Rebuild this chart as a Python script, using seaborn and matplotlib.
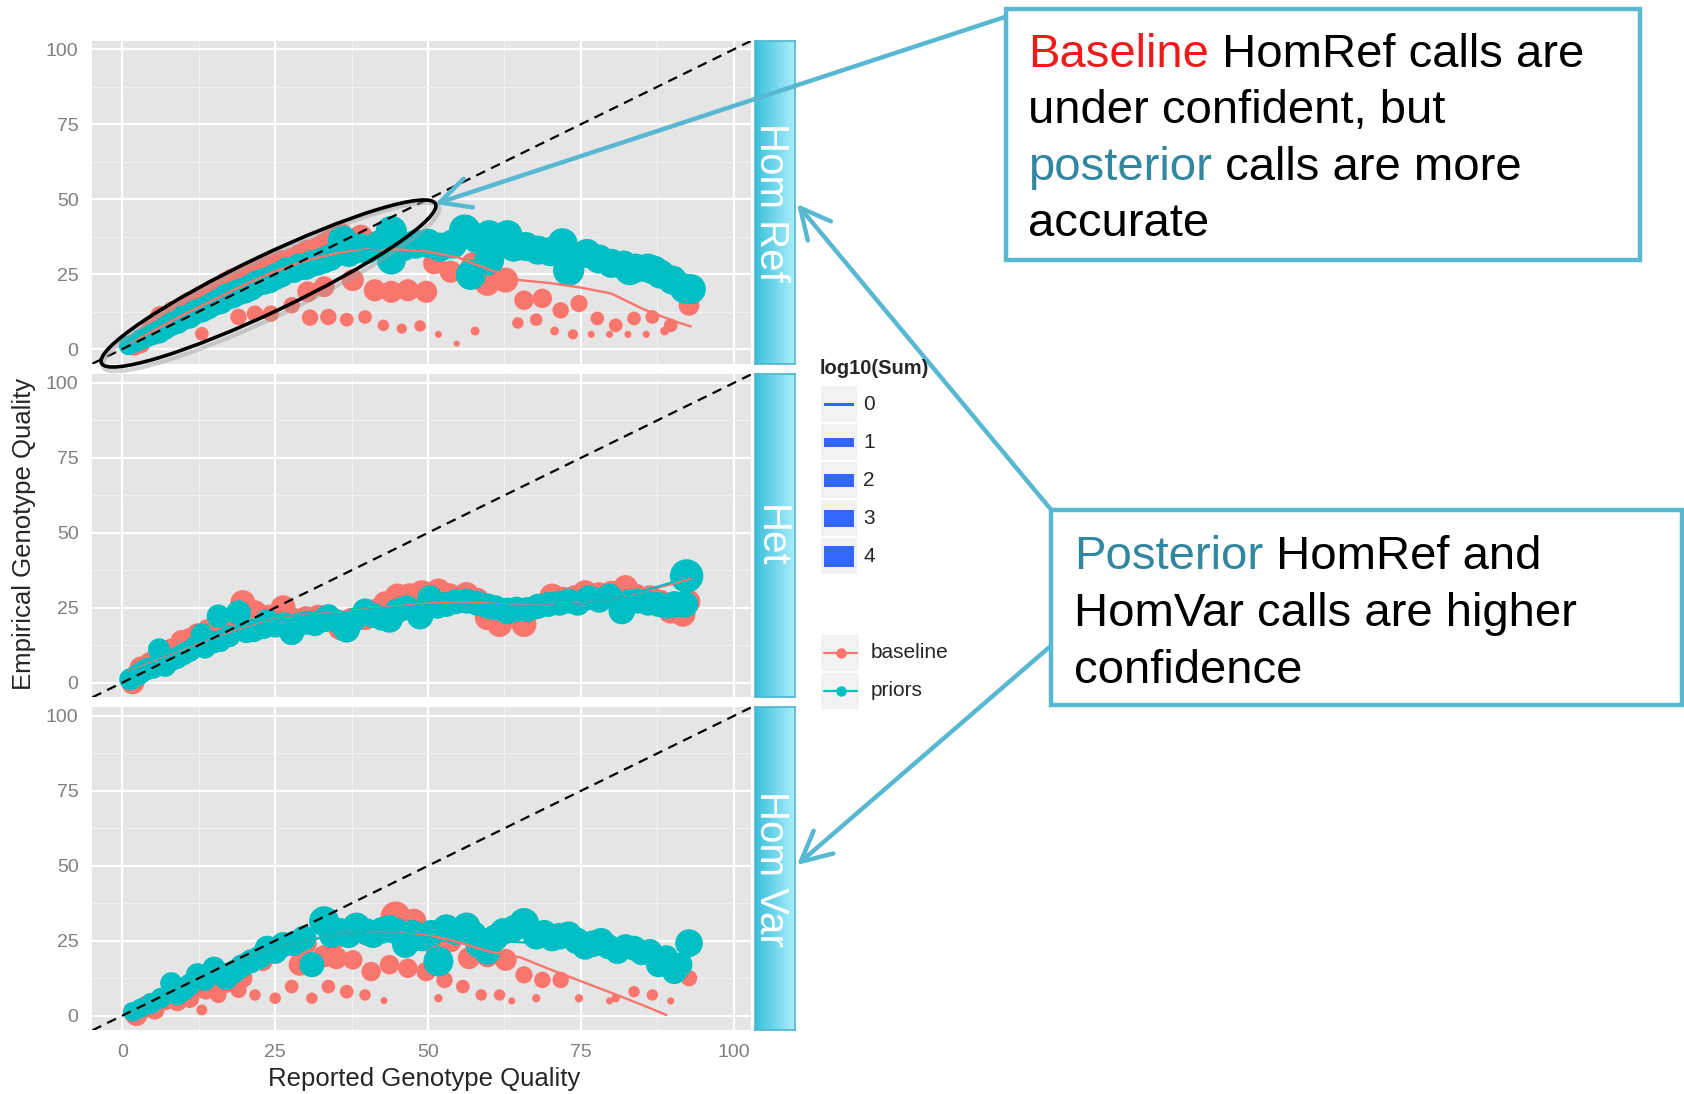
import numpy as np
import pandas as pd
import matplotlib
matplotlib.use("Agg")
import matplotlib.pyplot as plt
import seaborn as sns
from matplotlib.patches import Rectangle, Ellipse
from matplotlib.colors import LinearSegmentedColormap

# ------------------------------------------------------------------ data
panel_labels = ["Hom Ref", "Het", "Hom Var"]
group_labels = ["baseline", "priors"]
size_labels = ["0", "1", "2", "3", "4"]
tick_values = [0, 25, 50, 75, 100]
tick_labels = ["0", "25", "50", "75", "100"]

# --- Hom Ref
homref_base_x = [2, 3, 4, 5, 6.3, 7, 8.3, 9, 10, 11, 12, 13, 14, 15, 16, 17, 18, 19.7, 21, 22.3, 24, 25, 26, 27.7, 29, 30.3, 32, 33, 34, 35.7, 39,
                 13, 19, 21.7, 24.3, 27.7, 30.3, 33, 37.7, 41.3, 44, 46.7, 49.7, 51, 53.7, 57.3, 59.7, 62.7, 65.7, 68.7, 71.7, 74.7, 77.7, 80.7, 83.7, 86.7, 89.7, 92.7,
                 30.7, 33.7, 36.7, 39.7, 42.7, 45.7, 48.7, 51.7, 54.7, 57.7, 64.7, 67.7, 70.7, 73.7, 76.7, 79.7, 82.7, 85.7, 88.7]
homref_base_y = [1.0, 1.8, 4.5, 7.4, 10.7, 9.0, 12.4, 11.0, 13.0, 15.2, 14.5, 17.4, 18.0, 19.6, 20.5, 21.9, 23.0, 24.1, 25.0, 26.3, 27.5, 28.0, 29.0, 29.7, 31.0, 32.5, 33.5, 34.7, 36.0, 38.0, 37.5,
                 5.1, 10.7, 11.8, 11.8, 14.6, 19.1, 20.8, 23.0, 19.6, 19.1, 19.6, 19.1, 28.6, 25.8, 28.6, 21.9, 23.0, 16.3, 16.9, 12.9, 15.2, 10.2, 7.9, 10.2, 10.7, 7.9, 14.6,
                 10.5, 10.7, 9.8, 10.7, 7.9, 6.8, 7.7, 4.9, 1.8, 6.0, 8.7, 9.8, 6.0, 4.9, 4.9, 4.9, 4.9, 4.9, 6.0]
homref_base_s = [1.3, 1.3, 1.5, 1.7, 1.7, 1.7, 1.7, 1.7, 1.7, 1.9, 1.9, 1.9, 1.9, 1.9, 1.9, 1.9, 1.9, 2.0, 2.0, 2.0, 2.0, 2.0, 2.0, 2.0, 2.0, 2.0, 2.0, 2.0, 2.0, 2.2, 2.0,
                 0.6, 0.9, 0.9, 0.9, 0.9, 1.5, 1.5, 1.7, 1.7, 1.7, 1.7, 1.7, 1.7, 1.7, 1.7, 2.2, 2.2, 1.3, 1.3, 0.9, 1.0, 0.6, 0.6, 0.6, 0.6, 0.6, 1.5,
                 0.9, 0.9, 0.6, 0.6, 0.4, 0.3, 0.4, 0.1, 0.05, 0.2, 0.4, 0.5, 0.2, 0.3, 0.1, 0.1, 0.1, 0.1, 0.2]
homref_prior_x = [1, 2, 3, 4, 5, 6, 7, 8, 9, 10, 11, 12, 13, 14, 15, 16, 17, 18, 19, 20, 21, 22, 23, 24, 25, 26, 27, 28, 29, 30,
                  31, 32, 33, 34, 35, 36, 37, 38, 39, 40, 42, 44, 44, 46, 48, 50, 52, 54, 56, 57, 58, 60, 60, 62, 63, 64, 66, 68,
                  70, 72, 73, 74, 76, 78, 80, 82, 83, 84, 86, 87, 88, 90, 92, 93]
homref_prior_y = [1.2, 2.0, 3.2, 4.0, 5.0, 5.7, 7.0, 8.3, 9.0, 10.5, 11.0, 12.4, 13.0, 14.0, 15.2, 16.0, 17.4, 18.0, 19.0, 19.6,
                  20.5, 21.9, 22.5, 23.0, 24.1, 25.0, 26.3, 26.5, 27.5, 27.5, 28.5, 29.0, 29.7, 30.5, 31.9, 36.4, 32.0, 33.0, 34.0, 33.0,
                  35.0, 39.2, 29.7, 34.2, 35.0, 35.3, 34.0, 35.0, 39.7, 24.7, 37.0, 38.0, 29.7, 36.0, 38.0, 34.0, 34.2, 33.0, 32.5, 35.3,
                  26.3, 31.0, 31.9, 30.0, 28.6, 28.0, 26.3, 27.0, 27.0, 26.3, 25.0, 23.0, 20.2, 20.0]
homref_prior_s = [1.3, 1.3, 1.5, 1.5, 1.7, 1.9, 1.9, 2.0, 2.0, 2.2, 2.2, 2.2, 2.2, 2.2, 2.2,
                  2.5, 2.5, 2.5, 2.5, 2.5, 2.5, 2.5, 2.5, 2.5, 2.5, 2.5, 2.5, 2.5, 2.5, 2.5, 2.5, 2.5, 2.5, 2.5, 2.5,
                  3.0, 2.7, 2.7, 2.7, 2.7,
                  2.7, 3.5, 3.0, 3.0, 3.0, 3.0, 3.0, 3.0, 3.5, 3.2, 3.2, 3.2, 3.2, 3.2, 3.2, 3.0, 3.0, 3.0, 3.0, 3.2,
                  3.5, 3.0, 3.0, 3.0, 3.0, 3.0, 3.2, 3.0, 3.0, 3.0, 3.0, 3.0, 3.2, 3.2]
homref_base_smooth_x = [1, 5, 10, 15, 20, 25, 30, 35, 40, 45, 50, 55, 60, 65, 70, 75, 80, 85, 90, 93]
homref_base_smooth_y = [1.5, 6.0, 11.5, 16.5, 21.5, 26.0, 29.5, 32.0, 33.3, 33.3, 32.5, 30.5, 26.5, 23.0, 22.0, 20.5, 18.5, 13.5, 9.5, 7.5]
homref_prior_smooth_x = [1, 5, 10, 15, 20, 25, 30, 35, 40, 45, 50, 55, 60, 65, 70, 75, 80, 85, 90, 93]
homref_prior_smooth_y = [1.2, 5.0, 10.0, 15.0, 19.5, 24.0, 27.5, 31.0, 33.0, 34.5, 35.5, 35.5, 35.0, 34.0, 32.5, 30.5, 28.5, 26.5, 23.0, 20.5]

# --- Het
het_base_x = [1.7, 2.5, 3, 4.5, 6.3, 8, 9.7, 11, 12.3, 14, 15.7, 17.5, 19.7, 21.7, 24, 26.3, 28, 30, 32, 34,
              35.7, 37.5, 39.7, 41.5, 43, 45, 47, 49, 51.7, 53.5, 56.3, 58, 59.7, 61.7, 63.5, 65.7, 67.5, 70.3, 72, 74,
              75.7, 78, 80, 82.3, 84, 86.3, 88, 89.7, 91.7, 92.5]
het_base_y = [0, 2.8, 5, 6.5, 10.6, 11, 13.9, 14.5, 16.1, 17.5, 20, 21, 26.7, 23.3, 22, 25, 21, 21.5, 22, 21.5,
              18.3, 21, 21.7, 24, 26.5, 28.9, 29, 30, 30.6, 29, 29.4, 27.5, 21.7, 19.4, 24, 19.4, 25, 28.9, 28, 28.5,
              30, 29.5, 30, 31.7, 29, 28.3, 27, 23.9, 22.8, 27]
het_base_s = [1.9, 1.7, 1.7, 1.7, 1.7, 1.7, 1.7, 1.7, 1.7, 1.7, 1.9, 1.9, 2.2, 2.2, 2.0, 2.2, 2.0, 2.0, 2.0, 2.0,
              2.2, 2.0, 2.2, 2.0, 2.0, 2.2, 2.2, 2.2, 2.2, 2.2, 2.2, 2.2, 2.2, 2.2, 2.0, 2.2, 2.0, 2.2, 2.0, 2.0,
              2.2, 2.0, 2.0, 2.2, 2.0, 2.2, 2.0, 2.2, 2.2, 2.2]
het_prior_x = [1.3, 2.5, 3, 4, 5, 6, 7, 8, 9, 10, 11, 12, 13, 13.5, 15, 15.7, 16, 17.5, 19, 20.3,
               21.5, 23, 23.7, 25, 26.5, 27.7, 29, 30.3, 31.5, 33, 33.7, 35, 36.7, 38, 39.7, 41, 42.5, 43.7, 45, 46.5,
               48.7, 50.3, 51.5, 53, 54.5, 56.3, 58, 59.7, 61, 63, 64.5, 66.3, 68, 69.7, 71.5, 73, 74.5, 76.3, 78, 79.7,
               81.7, 83, 84.3, 86, 87.7, 89, 90.3, 92, 92.3]
het_prior_y = [1.1, 2.5, 3.3, 4.5, 5, 11.1, 5.6, 7.5, 8.3, 9.5, 10.6, 12, 16.1, 11.7, 13.5, 22.2, 13.9, 15.5, 23.3, 17.2,
               17.5, 18.5, 20.6, 19, 19.5, 16.7, 19.5, 20, 19.5, 21, 22.2, 20.5, 17.8, 21, 23.9, 22.5, 21.5, 21.1, 24, 25,
               22.2, 28.3, 25.5, 26.1, 27, 27.2, 26.5, 25.6, 25, 23.9, 24.5, 24.4, 25.5, 26.1, 26.5, 27.2, 26.5, 28.3, 27.5, 28.9,
               23.9, 27, 27.2, 26.5, 26.1, 25.5, 26.1, 26.1, 35.6]
het_prior_s = [1.7, 1.7, 1.7, 1.7, 1.7, 1.7, 1.7, 1.7, 1.7, 1.7, 1.7, 1.7, 1.7, 1.7, 1.7, 1.9, 1.7, 1.7, 2.2, 2.0,
               2.0, 2.0, 2.0, 2.0, 2.0, 2.2, 2.0, 2.0, 2.0, 2.2, 2.0, 2.0, 2.5, 2.0, 2.2, 2.2, 2.2, 2.5, 2.2, 2.2,
               2.5, 2.2, 2.2, 2.2, 2.2, 2.2, 2.2, 2.2, 2.2, 2.5, 2.2, 2.2, 2.2, 2.2, 2.2, 2.2, 2.2, 2.2, 2.2, 2.2,
               2.5, 2.2, 2.2, 2.2, 2.2, 2.2, 2.5, 2.5, 4.0]
het_base_smooth_x = [1, 5, 10, 15, 20, 25, 30, 35, 40, 45, 50, 55, 60, 65, 70, 75, 80, 85, 90, 93]
het_base_smooth_y = [3.8, 6.8, 10.8, 14.8, 18.2, 21.2, 22.5, 23.4, 24.5, 25.5, 26.4, 26.7, 26.4, 25.8, 25.7, 26.5, 28.0, 30.3, 33.0, 34.8]
het_prior_smooth_x = [1, 5, 10, 15, 20, 25, 30, 35, 40, 45, 50, 55, 60, 65, 70, 75, 80, 85, 90, 93]
het_prior_smooth_y = [3.5, 6.5, 10.5, 14.5, 17.8, 21.0, 22.3, 23.2, 24.3, 25.2, 26.0, 26.3, 26.1, 25.6, 25.6, 26.4, 28.0, 30.5, 33.5, 35.6]

# --- Hom Var
homvar_base_x = [2.3, 5.3, 9, 11, 13, 13.7, 15.7, 17, 19, 19.7, 21.7, 23, 25, 27.7, 29, 31, 33, 33.7, 35, 36.7,
                 37.7, 39.7, 40.7, 42.8, 43.7, 44.7, 46.7, 47.7, 49.7, 51, 51.7, 52.7, 53.7, 55.7, 56.7, 58.7, 59.7, 61.7, 62.7, 63.7,
                 65.7, 67.7, 68.7, 71.7, 74.7, 79.7, 80.7, 83.7, 86.7, 89.7, 92.7,
                 4, 7, 11.5, 15, 20, 25, 30, 35, 40]
homvar_base_y = [0.2, 1.9, 4.7, 5.8, 1.9, 8.6, 6.9, 10.3, 8.6, 12.5, 6.9, 18.1, 5.8, 9.7, 17, 5.8, 19.8, 9.7, 19.2, 8,
                 18.6, 6.9, 14.7, 5, 17, 33.1, 15.8, 31.5, 14.7, 23.7, 5.8, 11.9, 24.8, 9.7, 19.2, 6.9, 19.8, 6.9, 18.6, 4.9,
                 13.6, 5.8, 11.9, 11.9, 5.8, 4.9, 5.8, 8, 6.9, 4.9, 12.5,
                 3, 5.5, 9, 13, 17, 21, 24, 26, 27]
homvar_base_s = [1.7, 1.3, 1.3, 1.3, 0.36, 1.3, 0.9, 0.9, 0.9, 1.3, 0.4, 1.3, 0.4, 0.6, 1.7, 0.4, 1.7, 0.6, 1.7, 0.6,
                 1.3, 0.4, 1.3, 0.1, 1.3, 3.2, 1.3, 2.2, 1.3, 1.7, 0.17, 0.9, 1.7, 0.6, 1.7, 0.4, 1.7, 0.4, 1.7, 0.1,
                 1.0, 0.17, 0.9, 0.9, 0.17, 0.1, 0.17, 0.4, 0.4, 0.1, 0.9,
                 1.7, 1.7, 1.7, 1.7, 1.7, 1.7, 1.7, 1.7, 1.7]
homvar_prior_x = [1.7, 3, 4.7, 6.3, 8, 9, 10, 11, 12.3, 13.5, 15, 16, 17, 18.3, 19.5, 21, 22.5, 23.7, 25, 26.3,
                  28, 29.7, 31, 33, 34.3, 35.7, 37, 38.3, 40, 41, 42.5, 43.7, 45, 46.3, 47.5, 49, 50.5, 51.7, 53, 54.5,
                  56.3, 57.5, 58.3, 59.7, 61, 62.3, 64, 65.7, 67.7, 69, 70.3, 71.5, 73, 74.3, 75.7, 77, 78.3, 79.5, 81, 82.3,
                  83.7, 85, 86.3, 87.7, 89, 90.3, 91.3, 92.7]
homvar_prior_y = [1.3, 2.5, 4.1, 5.8, 10.8, 6.9, 8.5, 10.3, 13.6, 12, 15.8, 14, 12.5, 14.7, 16.5, 18.1, 19.5, 22.5, 21.5, 23.7,
                  24, 25.9, 17, 31.5, 27, 28.1, 27, 29.8, 28, 27, 28.5, 29, 28, 23.7, 27.5, 25.9, 27.5, 18.1, 29.2, 28,
                  29.8, 27, 23.7, 21.4, 26, 28.1, 29, 30.9, 26.5, 27.5, 25.9, 26.5, 27, 25, 23.1, 24, 24.8, 23, 21.4, 23,
                  22.5, 21, 21.4, 17, 19.5, 14.7, 17, 24.2]
homvar_prior_s = [1.3, 1.3, 1.5, 1.5, 1.7, 1.5, 1.7, 1.7, 1.9, 1.7, 1.9, 1.9, 1.9, 1.9, 1.9, 2.0, 2.0, 2.2, 2.2, 2.2,
                  2.2, 2.2, 2.2, 3.2, 2.5, 2.5, 2.5, 2.7, 2.5, 2.5, 2.5, 2.7, 2.5, 2.5, 2.5, 2.5, 2.5, 3.2, 2.7, 2.5,
                  2.7, 2.5, 2.5, 2.5, 2.5, 2.5, 2.5, 3.2, 2.5, 2.5, 2.5, 2.5, 2.5, 2.5, 2.5, 2.5, 2.5, 2.2, 2.2, 2.2,
                  2.2, 2.2, 2.2, 2.2, 2.0, 2.2, 2.0, 2.7]
homvar_base_smooth_x = [1, 5, 10, 15, 20, 25, 30, 35, 40, 45, 50, 55, 60, 65, 70, 75, 80, 85, 89]
homvar_base_smooth_y = [0.5, 5.0, 10.5, 15.5, 19.3, 22.5, 25.0, 27.0, 28.0, 28.2, 27.0, 24.5, 21.4, 19.5, 15.4, 11.5, 7.6, 3.6, 0.2]
homvar_prior_smooth_x = [1, 5, 10, 15, 20, 25, 30, 35, 40, 45, 50, 55, 60, 65, 70, 75, 80, 85, 90, 93]
homvar_prior_smooth_y = [0.5, 5.0, 10.5, 15.5, 19.3, 22.5, 25.0, 27.0, 28.0, 28.3, 27.5, 26.0, 25.0, 24.5, 24.0, 23.5, 22.5, 21.5, 20.5, 19.8]

# ------------------------------------------------------------------ style
sns.set_style("darkgrid")
plt.rcParams["font.family"] = ["Liberation Sans", "DejaVu Sans"]

palette = {"baseline": "#F8766D", "priors": "#00BFC4"}
W, H = 1684, 1094
fig = plt.figure(figsize=(W / 100, H / 100), dpi=100)


def px_axes(x0, y0, x1, y1, **kw):
    return fig.add_axes([x0 / W, 1 - y1 / H, (x1 - x0) / W, (y1 - y0) / H], **kw)


def points_df(bx, by, bs, px_, py, ps):
    b = pd.DataFrame({"x": bx, "y": by, "log10Sum": bs, "group": "baseline"})
    p = pd.DataFrame({"x": px_, "y": py, "log10Sum": ps, "group": "priors"})
    return pd.concat([b, p], ignore_index=True)


def smooth_df(bx, by, px_, py):
    b = pd.DataFrame({"x": bx, "y": by, "group": "baseline"})
    p = pd.DataFrame({"x": px_, "y": py, "group": "priors"})
    return pd.concat([b, p], ignore_index=True)


panel_points = [
    points_df(homref_base_x, homref_base_y, homref_base_s, homref_prior_x, homref_prior_y, homref_prior_s),
    points_df(het_base_x, het_base_y, het_base_s, het_prior_x, het_prior_y, het_prior_s),
    points_df(homvar_base_x, homvar_base_y, homvar_base_s, homvar_prior_x, homvar_prior_y, homvar_prior_s),
]
panel_smooth = [
    smooth_df(homref_base_smooth_x, homref_base_smooth_y, homref_prior_smooth_x, homref_prior_smooth_y),
    smooth_df(het_base_smooth_x, het_base_smooth_y, het_prior_smooth_x, het_prior_smooth_y),
    smooth_df(homvar_base_smooth_x, homvar_base_smooth_y, homvar_prior_smooth_x, homvar_prior_smooth_y),
]

panel_tops = [40.7, 374.3, 707.3]
panel_h = 323
px_left, px_right = 92.4, 751.4
lims = (-4.9, 102.9)
strip_cmap = LinearSegmentedColormap.from_list("strip", ["#3CC0DB", "#A9EEFB"])

for i, top in enumerate(panel_tops):
    ax = px_axes(px_left, top, px_right, top + panel_h)
    ax.set_facecolor("#E5E5E5")
    sns.scatterplot(data=panel_points[i], x="x", y="y", hue="group", size="log10Sum",
                    hue_order=group_labels, palette=palette, sizes=(12, 580), size_norm=(0, 4),
                    linewidth=0, alpha=1, legend=False, ax=ax, zorder=3)
    sns.lineplot(data=panel_smooth[i], x="x", y="y", hue="group", hue_order=group_labels,
                 palette=palette, linewidth=1.7, legend=False, ax=ax, estimator=None, zorder=4)
    ax.axline((0, 0), slope=1, color="black", lw=1.6, ls=(0, (4.4, 3.0)), zorder=5)
    ax.set_xlim(*lims)
    ax.set_ylim(*lims)
    ax.set_xticks(tick_values)
    ax.set_yticks(tick_values)
    ax.set_xticks([12.5, 37.5, 62.5, 87.5], minor=True)
    ax.set_yticks([12.5, 37.5, 62.5, 87.5], minor=True)
    ax.set_yticklabels(tick_labels)
    ax.grid(which="major", color="white", lw=1.6)
    ax.grid(which="minor", color="#F2F2F2", lw=0.8)
    ax.set_axisbelow(True)
    for sp in ax.spines.values():
        sp.set_visible(False)
    ax.tick_params(which="major", length=5.5, width=1, color="#7F7F7F",
                   labelsize=14, labelcolor="#7F7F7F", pad=4.5)
    ax.tick_params(which="minor", length=0)
    ax.set_xlabel("")
    ax.set_ylabel("")
    if i < 2:
        ax.set_xticklabels([])
        ax.tick_params(axis="x", length=0)
    else:
        ax.set_xticklabels(tick_labels)

    # facet strip
    sax = px_axes(755, top, 795, top + panel_h)
    sax.imshow(np.linspace(0, 1, 64).reshape(1, -1), cmap=strip_cmap, aspect="auto", extent=[0, 1, 0, 1])
    sax.set_xticks([])
    sax.set_yticks([])
    for sp in sax.spines.values():
        sp.set_color("#4DB5CE")
        sp.set_linewidth(1.2)
    sax.text(0.40, 0.5, panel_labels[i], rotation=-90, ha="center", va="center",
             color="white", fontsize=29, transform=sax.transAxes)

# ------------------------------------------------------------------ overlay
ov = fig.add_axes([0, 0, 1, 1], zorder=10)
ov.set_xlim(0, W)
ov.set_ylim(H, 0)
ov.axis("off")
ov.patch.set_visible(False)

ov.text(424, 1079, "Reported Genotype Quality", ha="center", va="center", fontsize=18.5)
ov.text(24, 534, "Empirical Genotype Quality", ha="center", va="center", rotation=90, fontsize=18.5)

# legend: log10(Sum)
ov.text(820, 369, "log10(Sum)", fontweight="bold", fontsize=14.5, va="center", ha="left")
key_centers = [404, 442, 480, 518, 556]
key_heights = [3, 9, 13, 17, 21]
for c, h, lab in zip(key_centers, key_heights, size_labels):
    ov.add_patch(Rectangle((821, c - 18), 36, 36, fc="#F2F2F2", ec="none"))
    ov.add_patch(Rectangle((824, c - h / 2), 30, h, fc="#3366FF", ec="none"))
    ov.text(863, c, lab, va="center", ha="left", fontsize=15)

# legend: group
for c, grp in zip([653, 691], group_labels):
    ov.add_patch(Rectangle((821, c - 18), 38, 36, fc="#F2F2F2", ec="none"))
    ov.plot([824, 857], [c, c], color=palette[grp], lw=1.6)
    ov.plot([840.5], [c], "o", color=palette[grp], ms=6.5)
    ov.text(871, c, grp, va="center", ha="left", fontsize=15)

# ellipse highlight
ov.add_patch(Ellipse((271, 287), 372, 58, angle=-25.5, fill=False, ec="#A0A0A0", lw=3, alpha=0.45))
ov.add_patch(Ellipse((268.5, 283.5), 370, 56, angle=-25.5, fill=False, ec="black", lw=2.6))

# arrows
arrow_c = "#58B8D1"
astyle = "->,head_length=0.9,head_width=0.45"
for start, end in [((1008, 16), (435, 204)), ((1053, 512), (797, 204)), ((1053, 644), (797, 865))]:
    ov.annotate("", xy=end, xytext=start,
                arrowprops=dict(arrowstyle=astyle, color=arrow_c, lw=3.2, shrinkA=0, shrinkB=0,
                                mutation_scale=24), zorder=1)

# annotation boxes
ov.add_patch(Rectangle((1006, 9), 634, 251, fc="white", ec=arrow_c, lw=3.2, zorder=2))
ov.add_patch(Rectangle((1051, 510), 631, 195, fc="white", ec=arrow_c, lw=3.2, zorder=2, clip_on=False))

red_c = "#F01A1A"
teal_c = "#31879F"


def rich_line(x, y, parts, size=34):
    t = ov.text(x, y, parts[0][0], color=parts[0][1], fontsize=size, va="baseline", ha="left", zorder=3)
    for txt, col in parts[1:]:
        t = ov.annotate(txt, xy=(1, 0), xycoords=t, va="bottom", ha="left", color=col,
                        fontsize=size, zorder=3)


rich_line(1028, 66.6, [("Baseline", red_c), (" HomRef calls are", "black")])
rich_line(1028, 123, [("under confident, but", "black")])
rich_line(1028, 179.5, [("posterior", teal_c), (" calls are more", "black")])
rich_line(1028, 236, [("accurate", "black")])
rich_line(1074, 569, [("Posterior", teal_c), (" HomRef and", "black")])
rich_line(1074, 626, [("HomVar calls are higher", "black")])
rich_line(1074, 683, [("confidence", "black")])

fig.savefig("out.png", dpi=100)
